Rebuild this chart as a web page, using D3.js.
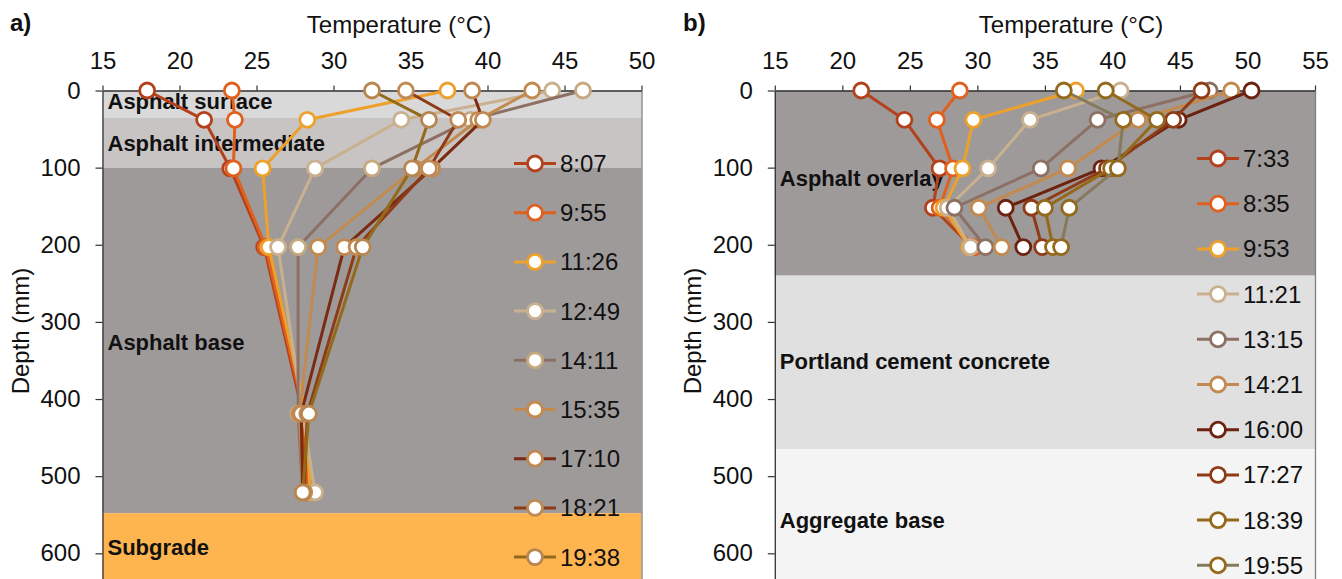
<!DOCTYPE html>
<html>
<head>
<meta charset="utf-8">
<script src="https://cdn.jsdelivr.net/npm/d3@7"></script>
<style>
  html, body { margin: 0; padding: 0; background: #fff; }
  svg { display: block; font-family: "Liberation Sans", Arial, sans-serif; }
</style>
</head>
<body>
<svg id="chart" width="1342" height="579"></svg>
<script>
// ---------- Data ----------
// Axis ticks
const xTicksA = [15, 20, 25, 30, 35, 40, 45, 50];
const xTicksB = [15, 20, 25, 30, 35, 40, 45, 50, 55];
const yTicks = [0, 100, 200, 300, 400, 500, 600];

// Panel a) - sensor depths (mm) and temperature profiles (°C)
const depthA = [0, 38, 101, 203, 419, 521];
const timesA = ["8:07", "9:55", "11:26", "12:49", "14:11", "15:35", "17:10", "18:21", "19:38"];
const tA0807 = [17.9, 21.6, 23.3, 25.5, 28.0, 28.2];
const tA0955 = [23.4, 23.6, 23.5, 25.6, 28.1, 28.3];
const tA1126 = [37.4, 28.3, 25.4, 25.8, 28.2, 28.5];
const tA1249 = [44.2, 34.4, 28.8, 26.4, 28.0, 28.8];
const tA1411 = [46.2, 38.9, 32.5, 27.7, 27.7, 28.0];
const tA1535 = [42.9, 39.4, 35.3, 29.0, 27.8, 28.0];
const tA1710 = [39.0, 39.7, 36.4, 30.7, 27.9, 28.0];
const tA1821 = [34.7, 38.1, 36.2, 31.5, 28.3, 28.1];
const tA1938 = [32.5, 36.2, 35.1, 31.9, 28.4, 28.0];

// Panel a) layers: name, top and bottom depth (mm)
const layerNamesA = ["Asphalt surface", "Asphalt intermediate", "Asphalt base", "Subgrade"];
const layerTopA = [0, 35, 100, 548];
const layerBottomA = [35, 100, 548, 640];

// Panel b) - sensor depths (mm) and temperature profiles (°C)
const depthB = [0, 38, 101, 152, 203];
const timesB = ["7:33", "8:35", "9:53", "11:21", "13:15", "14:21", "16:00", "17:27", "18:39", "19:55"];
const tB0733 = [21.4, 24.6, 27.2, 26.7, 29.6];
const tB0835 = [28.7, 27.0, 28.2, 27.2, 29.8];
const tB0953 = [37.3, 29.7, 28.9, 27.5, 29.4];
const tB1121 = [40.6, 33.9, 30.8, 27.8, 29.5];
const tB1315 = [47.2, 38.9, 34.7, 28.3, 30.6];
const tB1421 = [48.8, 41.9, 36.7, 30.1, 31.8];
const tB1600 = [50.3, 44.9, 39.2, 32.1, 33.4];
const tB1727 = [46.6, 44.5, 39.6, 34.0, 34.8];
const tB1839 = [39.5, 43.3, 39.9, 35.0, 35.6];
const tB1955 = [36.4, 40.8, 40.4, 36.8, 36.2];

// Panel b) layers
const layerNamesB = ["Asphalt overlay", "Portland cement concrete", "Aggregate base"];
const layerTopB = [0, 240, 465];
const layerBottomB = [240, 465, 640];

// ---------- Styles ----------
const lineColA = ["#b3411b", "#e0601e", "#eda02a", "#c9b18f", "#8d7064", "#c38a50", "#7b2b12", "#8e3b17", "#93691c"];
const dotColA  = ["#b3411b", "#e0601e", "#eda02a", "#c9b18f", "#c6a97e", "#c38a50", "#c08850", "#c08a55", "#b88650"];
const lineColB = ["#b3411b", "#e0601e", "#eda02a", "#c9b18f", "#8d7064", "#c38a50", "#6d2210", "#8f3b16", "#93691c", "#857a5c"];
const dotColB  = ["#b3411b", "#e0601e", "#eda02a", "#c9b18f", "#8d7064", "#c38a50", "#6d2210", "#8f3b16", "#93691c", "#93691c"];
const layerFillA = ["#d9d9d9", "#c8c4c4", "#9e9a9a", "#feb54f"];
const layerFillB = ["#9e9a9a", "#e0e0e0", "#f4f4f4"];
const layerLabelYA = [109, 151, 350, 555];
const layerLabelYB = [186, 369, 528];
const markerR = 7.5;

const svg = d3.select("#chart");

function drawPanel(p) {
  const g = svg.append("g");
  const x = d3.scaleLinear().domain(p.xDomain).range(p.xRange);
  const y = d3.scaleLinear().domain([0, 635]).range([90.5, 580.3]);
  const left = p.xRange[0], right = p.xRange[1];

  const clipId = "clip-" + p.id;
  svg.append("clipPath").attr("id", clipId)
    .append("rect").attr("x", left - 12).attr("y", 78)
    .attr("width", right - left + 24).attr("height", 510);

  const plot = g.append("g").attr("clip-path", `url(#${clipId})`);

  // layer bands
  plot.selectAll("rect.layer").data(p.layerNames).join("rect")
    .attr("class", "layer")
    .attr("x", left).attr("width", right - left)
    .attr("y", (d, i) => y(p.layerTop[i]))
    .attr("height", (d, i) => y(p.layerBottom[i]) - y(p.layerTop[i]))
    .attr("fill", (d, i) => p.layerFill[i]);

  plot.selectAll("text.layer").data(p.layerNames).join("text")
    .attr("class", "layer")
    .attr("x", left + 5)
    .attr("y", (d, i) => p.layerLabelY[i])
    .attr("font-size", 22).attr("font-weight", "bold").attr("fill", "#111")
    .text(d => d);

  // right border
  g.append("line").attr("x1", right + 0.5).attr("x2", right + 0.5)
    .attr("y1", 90.5).attr("y2", 580).attr("stroke", "#808080").attr("stroke-width", 1.3);

  // top axis
  const ax = g.append("g").attr("transform", "translate(0,90.5)")
    .call(d3.axisTop(x).tickValues(p.xTicks).tickSize(5).tickSizeOuter(0).tickPadding(17));
  ax.attr("font-size", 24).attr("font-family", null);
  ax.selectAll("text").attr("fill", "#111");
  ax.selectAll("line").attr("stroke", "#333").attr("stroke-width", 1.2);
  ax.select(".domain").attr("stroke", "#333").attr("stroke-width", 1.3);

  // left axis
  const ay = g.append("g").attr("transform", `translate(${left},0)`)
    .call(d3.axisLeft(y).tickValues(yTicks).tickSize(7).tickSizeOuter(0).tickPadding(15));
  ay.attr("font-size", 24).attr("font-family", null);
  ay.selectAll("text").attr("fill", "#111");
  ay.selectAll("line").attr("stroke", "#333").attr("stroke-width", 1.2);
  ay.select(".domain").attr("stroke", "#333").attr("stroke-width", 1.3);

  // profile lines and markers (drawn over the axis line, as in the plot area)
  const marks = svg.append("g").attr("clip-path", `url(#${clipId})`);
  const line = d3.line().x(d => x(d[0])).y(d => y(d[1]));
  p.series.forEach((temps, i) => {
    const pts = temps.map((t, k) => [t, p.depths[k]]);
    const s = marks.append("g");
    s.append("path").attr("d", line(pts))
      .attr("fill", "none").attr("stroke", p.lineCol[i])
      .attr("stroke-width", 3).attr("stroke-linejoin", "round");
    s.selectAll("circle").data(pts).join("circle")
      .attr("cx", d => x(d[0])).attr("cy", d => y(d[1])).attr("r", markerR)
      .attr("fill", "#fff").attr("stroke", p.dotCol[i]).attr("stroke-width", 2.8);
  });

  // titles
  g.append("text").attr("x", p.titleX).attr("y", 33).attr("text-anchor", "middle")
    .attr("font-size", 24).attr("fill", "#111").text("Temperature (°C)");
  g.append("text").attr("transform", `translate(${p.yTitleX},331) rotate(-90)`)
    .attr("text-anchor", "middle").attr("font-size", 24).attr("fill", "#111")
    .text("Depth (mm)");
  g.append("text").attr("x", p.letterX).attr("y", 31)
    .attr("font-size", 24).attr("font-weight", "bold").attr("fill", "#111").text(p.letter);

  // legend
  const lg = svg.append("g");
  p.times.forEach((t, i) => {
    const ly = p.legendY0 + i * p.legendStep;
    lg.append("line").attr("x1", p.legendX).attr("x2", p.legendX + 42)
      .attr("y1", ly).attr("y2", ly).attr("stroke", p.lineCol[i]).attr("stroke-width", 3);
    lg.append("circle").attr("cx", p.legendX + 21).attr("cy", ly).attr("r", markerR)
      .attr("fill", "#fff").attr("stroke", p.dotCol[i]).attr("stroke-width", 2.8);
    lg.append("text").attr("x", p.legendX + 46).attr("y", ly).attr("dy", "0.35em")
      .attr("font-size", 24).attr("fill", "#111").text(t);
  });
}

drawPanel({
  id: "a", letter: "a)", letterX: 10, titleX: 399, yTitleX: 29,
  xDomain: [15, 50], xRange: [102.5, 641.5], xTicks: xTicksA,
  depths: depthA, times: timesA,
  series: [tA0807, tA0955, tA1126, tA1249, tA1411, tA1535, tA1710, tA1821, tA1938],
  lineCol: lineColA, dotCol: dotColA,
  layerNames: layerNamesA, layerTop: layerTopA, layerBottom: layerBottomA,
  layerFill: layerFillA, layerLabelY: layerLabelYA,
  legendX: 514, legendY0: 163.5, legendStep: 49.2
});

drawPanel({
  id: "b", letter: "b)", letterX: 683, titleX: 1071, yTitleX: 701,
  xDomain: [15, 55], xRange: [774.8, 1315], xTicks: xTicksB,
  depths: depthB, times: timesB,
  series: [tB0733, tB0835, tB0953, tB1121, tB1315, tB1421, tB1600, tB1727, tB1839, tB1955],
  lineCol: lineColB, dotCol: dotColB,
  layerNames: layerNamesB, layerTop: layerTopB, layerBottom: layerBottomB,
  layerFill: layerFillB, layerLabelY: layerLabelYB,
  legendX: 1197, legendY0: 158.5, legendStep: 45.2
});
</script>
</body>
</html>
